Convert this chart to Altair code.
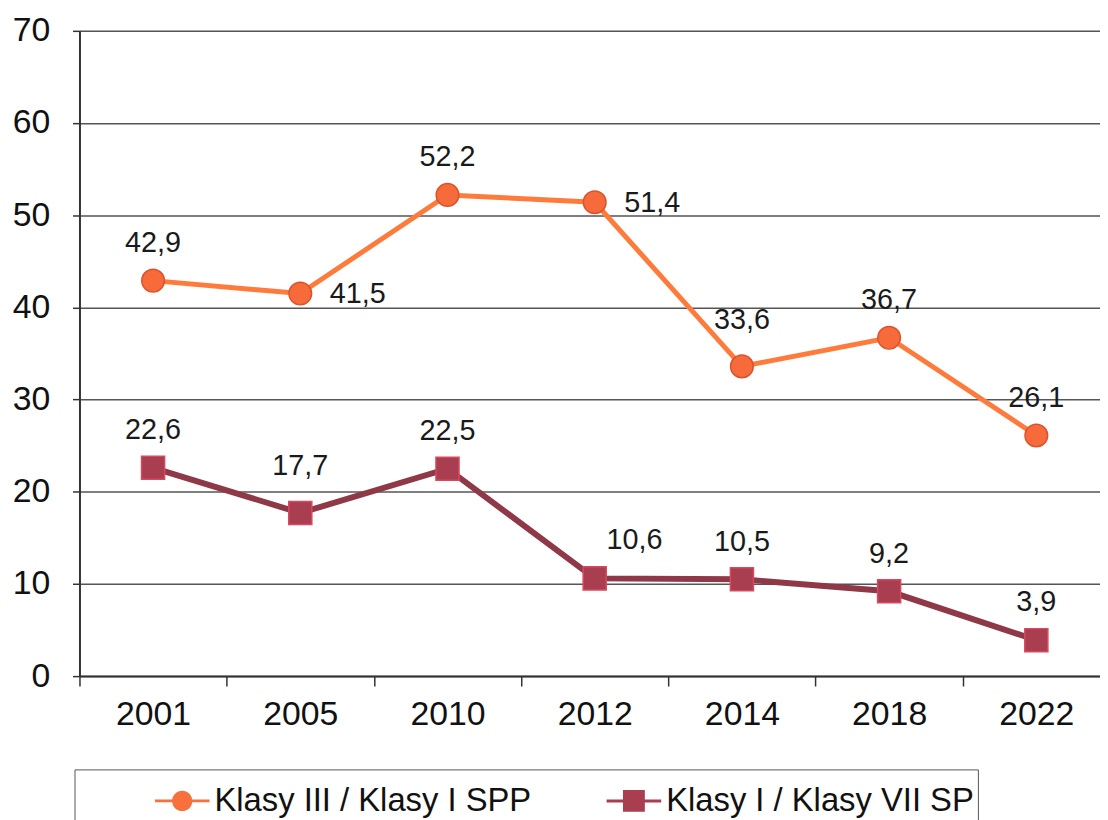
import altair as alt
import pandas as pd

years = ["2001", "2005", "2010", "2012", "2014", "2018", "2022"]
series_names = ["Klasy III / Klasy I SPP", "Klasy I / Klasy VII SP"]
spp_values = [42.9, 41.5, 52.2, 51.4, 33.6, 36.7, 26.1]
sp_values = [22.6, 17.7, 22.5, 10.6, 10.5, 9.2, 3.9]
spp_label_place = ["above", "right", "above", "right", "high", "above", "above"]
sp_label_place = ["above", "high", "above", "aboveright", "above", "above", "above"]

line_colors = ["#FF7B3C", "#8E3848"]
line_widths = [5, 6]
fill_colors = ["#F76A3A", "#A83E50"]
edge_colors = ["#D9542E", "#D8485E"]
legend_colors = ["#F8703C", "#A83E50"]

rows = []
for name, vals, places in [(series_names[0], spp_values, spp_label_place),
                           (series_names[1], sp_values, sp_label_place)]:
    for y, v, p in zip(years, vals, places):
        rows.append({"year": y, "series": name, "value": v,
                     "label": f"{v:.1f}".replace(".", ","), "place": p})
df = pd.DataFrame(rows)

FONT = "Liberation Sans"

x_enc = alt.X("year:O", sort=years,
              scale=alt.Scale(range=[0, 1038], paddingInner=0, paddingOuter=0),
              axis=alt.Axis(title=None, labelAngle=0, tickBand="extent", tickSize=10,
                            labelFontSize=34, labelFont=FONT, labelColor="#111111",
                            labelPadding=12, domainColor="#333333", domainWidth=2,
                            tickColor="#333333", tickWidth=1.5, grid=False))
y_enc = alt.Y("value:Q", scale=alt.Scale(domain=[0, 70], nice=False),
              axis=alt.Axis(title=None, values=list(range(0, 71, 10)), tickSize=7,
                            labelFontSize=34, labelFont=FONT, labelColor="#111111",
                            labelPadding=23, domainColor="#333333", domainWidth=2,
                            tickColor="#333333", tickWidth=1.5, grid=True,
                            gridColor="#555555", gridWidth=1.5))

# legend symbols: a short line with the marker on it (filled shapes only)
circle_sym = "M-1,-0.05H1V0.05H-1Z M0.37,0A0.37,0.37,0,1,1,-0.37,0A0.37,0.37,0,1,1,0.37,0Z"
square_sym = "M-1,-0.055H1V0.055H-1Z M-0.4,-0.4H0.4V0.4H-0.4Z"

legend = alt.Legend(
    title=" ", titleOrient="left", titlePadding=77, titleFontSize=33, titleFont=FONT,
    orient="none", legendX=-5, legendY=744, direction="horizontal",
    labelFontSize=33, labelFont=FONT, labelColor="#111111", labelOffset=5,
    labelLimit=600, columnPadding=75, symbolSize=3025, symbolOpacity=1,
    symbolStrokeWidth=0, strokeColor="#555555", padding=4,
)

base = alt.Chart(df)
layers = []
for i, name in enumerate(series_names):
    sub = base.transform_filter(alt.datum.series == name)
    layers.append(sub.mark_line(strokeWidth=line_widths[i], color=line_colors[i]).encode(x=x_enc, y=y_enc))
for i, name in enumerate(series_names):
    sub = base.transform_filter(alt.datum.series == name)
    layers.append(sub.mark_point(filled=True, size=[520, 540][i], strokeWidth=1.5, opacity=1,
                                 fill=fill_colors[i], stroke=edge_colors[i],
                                 shape=["circle", "square"][i]).encode(x=x_enc, y=y_enc))

# invisible layer that only carries the legend
legend_layer = base.mark_point(filled=True, opacity=0).encode(
    x=x_enc, y=y_enc,
    color=alt.Color("series:N", sort=series_names,
                    scale=alt.Scale(domain=series_names, range=legend_colors), legend=legend),
    shape=alt.Shape("series:N", sort=series_names,
                    scale=alt.Scale(domain=series_names, range=[circle_sym, square_sym]), legend=legend),
)
layers.append(legend_layer)

placements = {"above": (0, -38), "high": (0, -47), "right": (58, 1), "aboveright": (40, -39)}
for p, (dx, dy) in placements.items():
    layers.append(
        base.transform_filter(alt.datum.place == p).mark_text(
            dx=dx, dy=dy, fontSize=29, font=FONT, color="#1a1a1a", baseline="middle", align="center"
        ).encode(x=x_enc, y=y_enc, text="label:N")
    )

chart = alt.layer(*layers).properties(
    width=1028, height=650,
    autosize=alt.AutoSizeParams(type="none"),
    padding={"left": 72, "top": 20, "right": 0, "bottom": 150},
).configure_view(stroke=None).configure(background="white")

chart.save("out.html", embed_options={"renderer": "svg", "actions": False})
